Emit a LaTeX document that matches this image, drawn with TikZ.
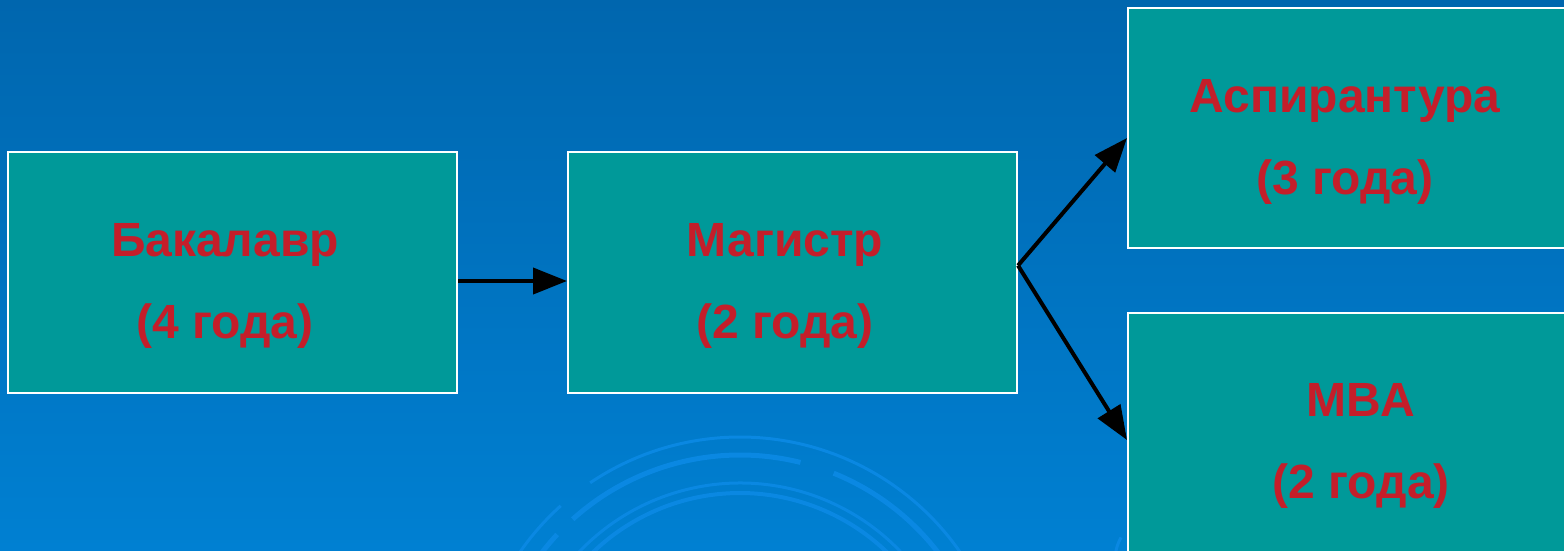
\documentclass[tikz,border=0pt]{standalone}
\usepackage{fontspec}
\setmainfont{Liberation Sans}
\usetikzlibrary{arrows.meta}
\definecolor{bgtop}{HTML}{0066AE}
\definecolor{bgbot}{HTML}{0080D2}
\definecolor{boxfill}{HTML}{009999}
\definecolor{txtred}{HTML}{C41E2A}
\definecolor{arcc}{HTML}{0A88E2}
\begin{document}
\begin{tikzpicture}[x=1pt,y=-1pt,
  stagebox/.style={draw=white,line width=2pt,fill=boxfill,inner sep=0pt},
  stagetext/.style={text=txtred,font=\bfseries\fontsize{48}{82}\selectfont,align=center},
  flow/.style={line width=4pt,-{Triangle[length=34pt,width=26pt]}},
  deco/.style={draw=arcc,line width=5pt}]
\shade[top color=bgtop,bottom color=bgbot] (0,0) rectangle (1564,550);
\useasboundingbox (0,0) rectangle (1564,550);
% faint decorative arcs
\begin{scope}
\clip (0,0) rectangle (1564,550);
\draw[deco,line width=3pt] (740,705) ++(-160:268) arc[start angle=-160,end angle=-132,radius=268];
\draw[deco,line width=3pt] (740,705) ++(-124:268) arc[start angle=-124,end angle=-20,radius=268];
\draw[deco] (740,705) ++(-146:250) arc[start angle=-146,end angle=-137,radius=250];
\draw[deco] (740,705) ++(-132:250) arc[start angle=-132,end angle=-76,radius=250];
\draw[deco] (740,705) ++(-68:250) arc[start angle=-68,end angle=-28,radius=250];
\draw[deco,line width=3pt] (740,705) ++(-150:222) arc[start angle=-150,end angle=-30,radius=222];
\draw[deco,line width=4pt] (740,705) ++(-155:212) arc[start angle=-155,end angle=-40,radius=212];
\draw[deco,line width=3pt] (1160,560) ++(-200:45) arc[start angle=-200,end angle=-150,radius=45];
\end{scope}
\node[stagebox,minimum width=449pt,minimum height=241pt] (bak) at (232.5,272.5) {};
\node[stagetext] (baktext) at (225,286) {Бакалавр\\(4 года)};
\node[stagebox,minimum width=449pt,minimum height=241pt] (mag) at (792.5,272.5) {};
\node[stagetext] (magtext) at (785,286) {Магистр\\(2 года)};
\node[stagebox,minimum width=450pt,minimum height=240pt] (asp) at (1353,128) {};
\node[stagetext] (asptext) at (1345,142) {Аспирантура\\(3 года)};
\node[stagebox,minimum width=450pt,minimum height=250pt] (mba) at (1353,438) {};
\node[stagetext] (mbatext) at (1361,446) {MBA\\(2 года)};
\coordinate (split) at ([yshift=7pt]mag.east);
\draw[flow] (bak.east |- 0,281) -- (mag.west |- 0,281);
\draw[flow] (split) -- (asp.west |- 0,138);
\draw[flow] (split) -- (mba.west |- 0,440);
\end{tikzpicture}
\end{document}
